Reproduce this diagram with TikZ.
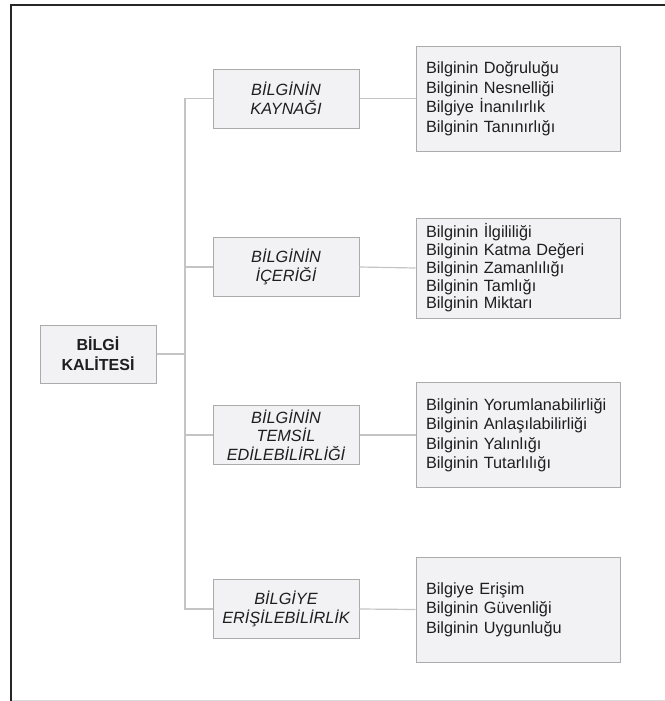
\documentclass[tikz,border=0pt]{standalone}
\usepackage{fontspec}
\setmainfont{Liberation Sans}
\definecolor{boxfill}{HTML}{F2F2F4}
\definecolor{boxline}{HTML}{ABABAB}
\definecolor{connline}{HTML}{C4C4C4}
\definecolor{textcol}{HTML}{1E1E1E}
\begin{document}
\begin{tikzpicture}[x=0.75pt,y=-0.75pt,
  box/.style={draw=boxline,line width=0.75pt,fill=boxfill,inner sep=0pt,text=textcol},
  rootbox/.style={box,minimum width=87pt,minimum height=43.5pt,align=center,
     font=\fontsize{12pt}{15pt}\selectfont\bfseries},
  midbox/.style={box,minimum width=109.5pt,minimum height=44.25pt,align=center,
     font=\fontsize{12.2pt}{13.9pt}\selectfont\itshape},
  rightbox/.style={box,minimum width=153pt,minimum height=78.75pt,text width=138pt,
     inner xsep=7.5pt,align=left,font=\fontsize{12.2pt}{14.6pt}\selectfont},
  conn/.style={draw=connline,line width=0.9pt}]
\useasboundingbox (0,0) rectangle (665,701);
% frame
\draw[line width=0.4pt,black!15] (11,700) -- (665,700);
\draw[line width=2.2pt,black!85] (11,701) -- (11,5) -- (665,5);
% nodes
\node[rootbox] (root) at (98,354) {BİLGİ\\KALİTESİ};
\node[midbox] (m1) at (286,98.5) {BİLGİNİN\\KAYNAĞI};
\node[midbox] (m2) at (286,267) {BİLGİNİN\\İÇERİĞİ};
\node[midbox] (m3) at (286,435) {BİLGİNİN\\TEMSİL\\EDİLEBİLİRLİĞİ};
\node[midbox] (m4) at (286,609) {BİLGİYE\\ERİŞİLEBİLİRLİK};
\node[rightbox] (r1) at (518,98.5) {Bilginin Doğruluğu\\Bilginin Nesnelliği\\Bilgiye İnanılırlık\\Bilginin Tanınırlığı};
\node[rightbox,minimum height=75pt,font=\fontsize{12.2pt}{13.3pt}\selectfont] (r2) at (518,268) {Bilginin İlgililiği\\Bilginin Katma Değeri\\Bilginin Zamanlılığı\\Bilginin Tamlığı\\Bilginin Miktarı};
\node[rightbox] (r3) at (518,435) {Bilginin Yorumlanabilirliği\\Bilginin Anlaşılabilirliği\\Bilginin Yalınlığı\\Bilginin Tutarlılığı};
\node[rightbox] (r4) at (518,609.5) {Bilgiye Erişim\\Bilginin Güvenliği\\Bilginin Uygunluğu};
% trunk coordinates
\coordinate (t0) at (185,354);
\coordinate (t1) at (185,98.5);
\coordinate (t2) at (185,267);
\coordinate (t3) at (185,435);
\coordinate (t4) at (185,609);
% connectors
\draw[conn] (root.east) -- (t0);
\draw[conn] (m1.west) -- (t1) -- (t4) -- (m4.west);
\draw[conn] (t2) -- (m2.west);
\draw[conn] (t3) -- (m3.west);
\draw[conn] (m1.east) -- (r1.west);
\draw[conn] (m2.east) -- (r2.west);
\draw[conn] (m3.east) -- (r3.west);
\draw[conn] (m4.east) -- (r4.west);
\end{tikzpicture}
\end{document}
